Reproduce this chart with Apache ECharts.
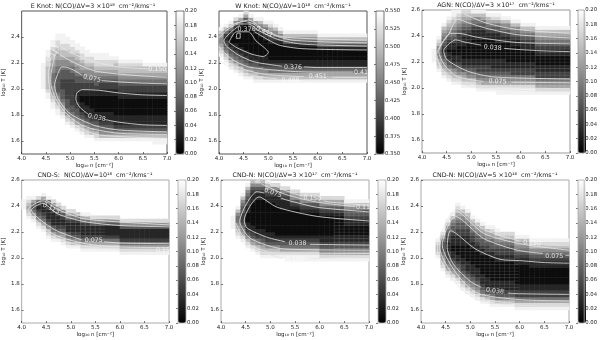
<!DOCTYPE html>
<html><head><meta charset="utf-8">
<style>html,body{margin:0;padding:0;background:#fff}#c{width:600px;height:340px}</style>
<script src="https://cdn.jsdelivr.net/npm/echarts@6/dist/echarts.min.js"></script>
</head><body><div id="c"></div>
<script>
// Gray-level tables: one [first T bin, levels] entry per log n column (0.1 wide), T bins 0.025 tall from 1.5.
const eKnotCols=[[0,""],[0,""],[0,""],[0,""],
[20,"99999999"],[17,"998777777788899"],[14,"998765544445566777899"],[12,"9987654333333445566778899"],
[11,"98765433322233345567788999"],[9,"987543332222223334556778899"],[8,"987543322222222334456678899"],
[7,"986543322111222334556677899"],[6,"987543211100112233456678899"],[5,"987543211100011223455678899"],
[5,"97643221100001122345567889"],[4,"987543211000001123345678899"],[4,"975432111000001122345678899"],
[4,"975432111000001122345678899"],[4,"97543211100000112234567889"],[4,"97532111000000112234567789"],
[4,"9753211100000112234567789"],[4,"9753211100000112234567789"],[4,"9753211100000112234567789"],
[4,"9753211100000112234567789"],[4,"9753211100000112234567789"],[4,"975321110000011223456779"],
[4,"975321110000011223456779"],[3,"9975321110000011223456779"],[3,"9975321110000011223456779"],[3,"9975321110000011223456779"]];
const wKnotCols=[[30,"987655679"],[28,"987543212469"],[26,"987543210012479"],[25,"98754321100001258"],
[24,"9875432110000001369"],[23,"987543211000000001368"],[23,"97653211000000012469"],[22,"98754321000000012369"],
[22,"98654211000000123579"],[22,"9765321100000123469"],[22,"9764321000001235689"],[22,"976432100000124579"],
[22,"97643210000013579"],[22,"9764321000013579"],[22,"9764321000013579"],[22,"9764311000013579"],
[22,"9764311000013579"],[22,"9764311000013579"],[22,"9764311000013579"],[22,"9764311000013579"],
[22,"976431100013579"],[22,"976431100013579"],[22,"976431100013579"],[22,"976431100013579"],[22,"976431100013579"],
[22,"976431100013579"],[22,"976431100013579"],[22,"976431100013579"],[22,"976431100013579"],[22,"976431100013579"]];
const agnCols=[[0,""],[0,""],[28,"9999"],[25,"98765445789"],[23,"98765432123345679"],[22,"98764321101123456789"],
[21,"98765321100112344567899"],[21,"98754321100011223456789"],[20,"987653211000011122345678"],
[20,"987543211000001112345678"],[20,"987543211000000111234579"],[19,"9875432211000000111234579"],
[19,"9865432211000000111234679"],[19,"986543221100000011234679"],[19,"986543211100000011234689"],
[18,"9986543211100000111234689"],[18,"998654321110000011234579"],[18,"998654321100000011234579"],
[18,"99865422110000011234579"],[18,"99865422110000011234579"],[18,"9986542211000011234579"],
[18,"9986542211000011234579"],[18,"9986542211000011234579"],[18,"986542211000112345679"],[18,"986542211000112345679"],
[18,"986542211000112345679"],[18,"986542211000112345679"],[18,"986542211000112345679"],[18,"986542211000112345679"],[18,"986542211000112345679"]];
const cndSCols=[[35,"999"],[32,"9876789"],[31,"98643469"],[29,"9864321248"],[28,"986432111369"],[26,"9875321111249"],
[25,"9864311112358"],[25,"975321112358"],[24,"986532112358"],[23,"986431112468"],[23,"975321112468"],[23,"97532111247"],
[22,"986421112469"],[22,"986421112469"],[22,"98642111358"],[22,"98642111358"],[22,"98642111358"],[22,"98642111358"],
[22,"98642111358"],[22,"98642111358"],[21,"98642111358"],[21,"98642111358"],[21,"98642111358"],[21,"98642111358"],
[21,"98642111358"],[21,"98642111358"],[21,"98642111358"],[21,"98642111358"],[21,"98642111358"],[21,"98642111358"]];
const cndN3Cols=[[0,""],[0,""],[29,"9999"],[26,"9876544579"],[25,"986543222334579"],[23,"98753211000112234579"],
[22,"9865321100000001112357"],[21,"98754211000000000112358"],[20,"987643211000000000112357"],
[20,"987532110000000001123579"],[20,"98753211000000000112358"],[20,"98753210000000001112358"],
[20,"9864321000000001112358"],[19,"99864321000000001112358"],[19,"9986432100000000123568"],
[19,"9986432100000000123568"],[19,"998643210000000123568"],[19,"998643210000000123568"],[19,"998643210000000123568"],
[19,"998643210000000123568"],[19,"98643211000000123568"],[19,"98643211000000123568"],[19,"98643211000000123568"],
[19,"98643211000000123568"],[19,"98643211000000123568"],[19,"9864321100011233579"],[19,"9864321100011233579"],
[19,"9864321100011233579"],[19,"9864321100011233579"],[19,"9864321100011233579"]];
const cndN5Cols=[[0,""],[0,""],[0,""],[20,"987789"],[16,"987654333468"],[14,"986543221112234579"],
[13,"986543211001112334579"],[12,"9865432110001112233456789"],[10,"98754322110000111223345679"],
[9,"98654321110000011122345679"],[8,"9865432111000001122345679"],[7,"9865432111000001123345679"],
[6,"9864321110000001123345679"],[6,"975321110000000122345679"],[5,"9864321100000001123345689"],
[5,"975321110000001122345689"],[5,"97532111000000112234578"],[5,"97532111000000112234578"],[5,"97532111000000112234578"],
[4,"98642211000000112345679"],[4,"98642211000000112345679"],[4,"98642211000000112345679"],[4,"9864221100000112345789"],
[4,"9864221100000112345789"],[4,"9864221100000112345789"],[4,"9864221100000112345789"],[4,"9864221100000112345789"],
[4,"9864221100000112345789"],[4,"9864221100000112345789"],[4,"9864221100000112345789"]];

// Contour segments [log n, log T]
const e038a=[[7,1.72],[6.5,1.725],[6,1.745],[5.72,1.765]];
const e038b=[[5.38,1.805],[5.2,1.86],[5.12,1.92],[5.14,1.97],[5.25,1.995],[5.6,1.99],[6,1.97],[6.5,1.955],[7,1.95]];
const e075a=[[7,2.04],[6.5,2.045],[6,2.055],[5.65,2.065]];
const e075b=[[5.25,2.105],[5.1,2.14],[4.95,2.165],[4.83,2.17],[4.75,2.12],[4.68,2.03],[4.76,1.92],[5,1.81],[5.5,1.72],[6,1.685],[7,1.67]];
const e113=[[7,2.09],[6.5,2.10],[6,2.115],[5.5,2.14],[5.1,2.2],[4.85,2.25],[4.73,2.28],[4.62,2.15],[4.6,2.05],[4.7,1.93],[4.9,1.82],[5.2,1.73],[5.5,1.69],[6,1.66],[7,1.65]];
const e150a=[[7,2.135],[6.97,2.14]];
const e150b=[[6.62,2.155],[6,2.17],[5.5,2.21],[5,2.28],[4.8,2.33]];
const e150c=[[4.6,2.2],[4.55,2.13],[4.57,2.02],[4.68,1.9],[5,1.75],[5.5,1.655],[6,1.635],[7,1.62]];
const eLabels=[[5.55,1.78,"0.038",-12],[5.45,2.08,"0.075",-12],[6.8,2.148,"0.150",0],[4.66,2.27,"0.113",55]];

const w350=[[4.2,2.36],[4.35,2.44],[4.6,2.44],[4.75,2.37],[5.0,2.28],[4.9,2.25],[4.65,2.27],[4.35,2.32],[4.2,2.36]];
const wMini=[[4.35,2.39],[4.43,2.39],[4.43,2.43],[4.37,2.43],[4.35,2.39]];
const w376a=[[7,2.165],[6,2.165],[5.72,2.17]];
const w376b=[[5.28,2.175],[5,2.19],[4.7,2.21],[4.4,2.26],[4.15,2.33],[4.1,2.37],[4.25,2.44],[4.42,2.49]];
const w376c=[[4.72,2.44],[5.2,2.34],[5.7,2.31],[7,2.30]];
const w413a=[[6.72,2.13],[6,2.13],[5.5,2.135],[5,2.15],[4.6,2.17],[4.3,2.22],[4.05,2.3],[4,2.33]];
const w413b=[[4,2.39],[4.15,2.45],[4.4,2.5],[4.6,2.5],[4.8,2.45],[5.2,2.38],[5.7,2.345],[7,2.33]];
const w451a=[[7,2.09],[6.3,2.09]];
const w451b=[[5.72,2.095],[5,2.11],[4.6,2.14],[4.2,2.2],[4,2.27]];
const w451c=[[4,2.43],[4.2,2.48],[4.5,2.52],[4.7,2.5],[5,2.43],[5.5,2.375],[7,2.355]];
const w488a=[[7,2.07],[5.72,2.07]];
const w488b=[[5.18,2.08],[5,2.085],[4.6,2.11],[4.3,2.15],[4,2.22]];
const w488c=[[4.3,2.5],[4.6,2.53],[4.9,2.46],[5.3,2.4],[7,2.375]];
const wLabels=[[5.5,2.17,"0.376",0],[6.0,2.095,"0.451",0],[6.88,2.125,"0.41",0],[5.45,2.07,"0.488",0],[4.56,2.46,"0.376",0],[4.92,2.44,"0.451",-25]];

const a038a=[[7,2.28],[6.5,2.285],[6,2.295],[5.66,2.305]];
const a038b=[[5.2,2.33],[4.9,2.35],[4.68,2.37],[4.55,2.34],[4.44,2.29],[4.5,2.22],[4.92,2.13],[5.46,2.085],[7,2.07]];
const a075a=[[7,2.34],[5.93,2.35],[5.12,2.39],[4.75,2.42],[4.58,2.42],[4.34,2.28],[4.45,2.18],[4.7,2.09],[5.25,2.05]];
const a075b=[[5.82,2.045],[7,2.04]];
const a113=[[7,2.385],[5.93,2.41],[5.3,2.46],[4.95,2.5],[4.72,2.53],[4.55,2.42],[4.3,2.26],[4.4,2.15],[4.7,2.06],[5.3,2.01],[7,1.995]];
const a150a=[[7,2.42],[5.93,2.45],[5.3,2.5],[4.85,2.57]];
const a150b=[[4.27,2.25],[4.45,2.11],[4.8,2.03],[5.5,1.99],[7,1.97]];
const aLabels=[[5.43,2.31,"0.038",-5],[5.53,2.05,"0.075",-3]];

const s075a=[[7,2.11],[6,2.115],[5.68,2.125]];
const s075b=[[5.22,2.14],[4.66,2.22],[4.2,2.37],[4.43,2.42],[4.73,2.34],[5.27,2.28],[6,2.25],[7,2.24]];
const s113=[[7,2.08],[6,2.085],[5.3,2.11],[4.66,2.18],[4.3,2.29],[4.13,2.37],[4.43,2.44],[4.75,2.37],[5.3,2.3],[7,2.255]];
const s150a=[[6.72,2.06],[6,2.065],[5.3,2.09],[4.6,2.17],[4.25,2.3]];
const s150b=[[4.45,2.455],[4.8,2.385],[5.3,2.32],[7,2.27]];
const sLabels=[[5.47,2.135,"0.075",0],[4.6,2.38,"0.113",-25],[6.88,2.06,"0.15",0]];

const n038a=[[7,2.285],[5.95,2.32],[5.14,2.39],[4.77,2.47],[4.47,2.29],[4.53,2.23],[4.93,2.16],[5.3,2.125]];
const n038b=[[5.8,2.105],[7,2.10]];
const n075a=[[7,2.355],[5.95,2.39],[5.34,2.445],[5.22,2.46]];
const n075b=[[4.88,2.5],[4.73,2.51],[4.38,2.28],[4.6,2.15],[5.27,2.07],[7,2.06]];
const n113a=[[6.72,2.395],[5.95,2.43],[5.3,2.49],[4.82,2.57]];
const n113b=[[4.3,2.27],[4.55,2.11],[5.2,2.03],[7,2.035]];
const n150a=[[7,2.405],[6.2,2.43],[6.08,2.44]];
const n150b=[[5.62,2.48],[5.3,2.52],[4.9,2.59]];
const n150c=[[4.28,2.25],[4.5,2.1],[5.2,2.0],[5.25,1.995]];
const n150d=[[5.78,1.995],[7,2.01]];
const nLabels=[[5.55,2.115,"0.038",0],[5.05,2.5,"0.075",-20],[5.85,2.46,"0.150",-5],[6.88,2.39,"0.11",0],[5.5,1.99,"0.150",0]];

const d038a=[[7,1.96],[6.5,1.965],[6,1.98],[5.6,1.99],[5.1,2.07],[4.6,2.21],[4.53,2.08],[4.66,1.95],[5,1.82],[5.22,1.775]];
const d038b=[[5.76,1.73],[6,1.725],[7,1.72]];
const d075a=[[7,2.02],[6.93,2.02]];
const d075b=[[6.47,2.035],[5.95,2.06],[5.27,2.15],[4.7,2.32],[4.43,2.1],[4.73,1.875],[5.14,1.73],[6,1.68],[7,1.67]];
const d113=[[7,2.06],[6,2.11],[5.27,2.19],[4.72,2.36],[4.38,2.08],[4.7,1.84],[5.14,1.7],[6,1.65],[7,1.65]];
const d150a=[[7,2.095],[6.5,2.1]];
const d150b=[[6,2.13],[5.27,2.22],[4.73,2.38],[4.33,2.07],[4.65,1.83],[5.14,1.68],[6,1.635],[7,1.63]];
const dLabels=[[5.5,1.745,"0.038",-6],[6.7,2.01,"0.075",0],[6.25,2.115,"0.150",-5]];

const xTicks=[4,4.5,5,5.5,6,6.5,7];
const yTicksShort=[1.6,1.8,2,2.2,2.4];
const yTicksLong=[1.6,1.8,2,2.2,2.4,2.6];
const titles=["E Knot: N(CO)/ΔV=3 ×10¹⁸  cm⁻²/kms⁻¹","W Knot: N(CO)/ΔV=10¹⁸  cm⁻²/kms⁻¹","AGN: N(CO)/ΔV=3 ×10¹⁷  cm⁻²/kms⁻¹",
"CND-S:  N(CO)/ΔV=10¹⁸  cm⁻²/kms⁻¹","CND-N: N(CO)/ΔV=3 ×10¹⁷  cm⁻²/kms⁻¹","CND-N: N(CO)/ΔV=5 ×10¹⁶  cm⁻²/kms⁻¹"];

const panels=[
{l:19,t:11,cb:176,cols:eKnotCols,lo:0,hi:0.2,step:0.02,dec:2,lines:[e038a,e038b,e075a,e075b,e113,e150a,e150b,e150c],labels:eLabels,yt:yTicksShort,frame:'#555',mesh:null},
{l:219,t:11,cb:376,cols:wKnotCols,lo:0.35,hi:0.55,step:0.025,dec:3,lines:[w350,wMini,w376a,w376b,w376c,w413a,w413b,w451a,w451b,w451c,w488a,w488b,w488c],labels:wLabels,yt:yTicksShort,frame:'#555',mesh:null},
{l:422,t:10,cb:578,cols:agnCols,lo:0,hi:0.2,step:0.02,dec:2,lines:[a038a,a038b,a075a,a075b,a113,a150a,a150b],labels:aLabels,yt:yTicksLong,frame:'#999',mesh:[3,29]},
{l:21,t:180,cb:178,cols:cndSCols,lo:0,hi:0.2,step:0.02,dec:2,lines:[s075a,s075b,s113,s150a,s150b],labels:sLabels,yt:yTicksLong,frame:'#aaa',mesh:[4,16]},
{l:221,t:180,cb:378,cols:cndN3Cols,lo:0,hi:0.2,step:0.02,dec:2,lines:[n038a,n038b,n075a,n075b,n113a,n113b,n150a,n150b,n150c,n150d],labels:nLabels,yt:yTicksLong,frame:'#aaa',mesh:[23,29]},
{l:421,t:180,cb:578,cols:cndN5Cols,lo:0,hi:0.2,step:0.02,dec:2,lines:[d038a,d038b,d075a,d075b,d113,d150a,d150b],labels:dLabels,yt:yTicksLong,frame:'#aaa',mesh:[5,19]}];

const W=148,H=143,CBW=8,FS=5.5,FF='"DejaVu Sans"';
const nBins=[];for(let i=0;i<30;i++)nBins.push(String(i));
const tBins=[];for(let i=0;i<44;i++)tBins.push(String(i));
const opt={animation:false,backgroundColor:'#fff',title:[],grid:[],xAxis:[],yAxis:[],series:[],visualMap:[]};
const tick={show:true,inside:true,length:2,lineStyle:{color:'#222',width:0.6}};
panels.forEach(function(p,idx){
  const g0=opt.grid.length;
  opt.grid.push({left:p.l,top:p.t,width:W,height:H,show:true,borderColor:p.frame,borderWidth:1,backgroundColor:'#fff'});
  opt.grid.push({left:p.cb,top:p.t,width:CBW,height:H,show:true,borderColor:p.frame,borderWidth:0.8,backgroundColor:'transparent',z:5});
  opt.title.push({text:titles[idx],left:p.l+W/2,top:p.t-8,textAlign:'center',textStyle:{fontFamily:FF,fontSize:6.3,fontWeight:'normal',color:'#222'},padding:0});
  const xc=opt.xAxis.length;
  opt.xAxis.push({type:'category',gridIndex:g0,data:nBins,show:false});
  opt.xAxis.push({type:'value',gridIndex:g0,min:4,max:7,position:'bottom',name:'log₁₀ n [cm⁻²]',nameLocation:'middle',nameGap:9,
    nameTextStyle:{fontFamily:FF,fontSize:FS,color:'#222'},splitLine:{show:false},axisLine:{show:false},
    axisTick:Object.assign({},tick,{customValues:xTicks}),
    axisLabel:{customValues:xTicks,margin:2,fontFamily:FF,fontSize:FS,color:'#222',formatter:function(v){return v.toFixed(1)}}});
  opt.xAxis.push({type:'value',gridIndex:g0+1,min:0,max:1,show:false});
  const yc=opt.yAxis.length;
  opt.yAxis.push({type:'category',gridIndex:g0,data:tBins,show:false});
  opt.yAxis.push({type:'value',gridIndex:g0,min:1.5,max:2.6,position:'left',name:'log₁₀ T [K]',nameLocation:'middle',nameGap:11,
    nameTextStyle:{fontFamily:FF,fontSize:FS,color:'#222'},splitLine:{show:false},axisLine:{show:false},
    axisTick:Object.assign({},tick,{customValues:p.yt}),
    axisLabel:{customValues:p.yt,margin:2,fontFamily:FF,fontSize:FS,color:'#222',formatter:function(v){return v.toFixed(1)}}});
  opt.yAxis.push({type:'value',gridIndex:g0+1,min:p.lo,max:p.hi,interval:p.step,position:'right',splitLine:{show:false},axisLine:{show:false},
    axisTick:Object.assign({},tick),
    axisLabel:{margin:1,fontFamily:FF,fontSize:5.3,color:'#222',formatter:function(v){return v.toFixed(p.dec)}}});
  const span=(p.hi-p.lo)/10, cells=[];
  p.cols.forEach(function(c,i){
    for(let j=0;j<c[1].length;j++){
      const v=[i,c[0]+j,p.lo+(+c[1][j]+0.5)*span];
      cells.push(p.mesh&&i>=p.mesh[0]&&i<=p.mesh[1]?{value:v,itemStyle:{borderColor:'rgba(255,255,255,0.16)',borderWidth:0.6}}:v);
    }
  });
  opt.visualMap.push({type:'continuous',seriesIndex:opt.series.length,min:p.lo,max:p.hi,left:p.cb,top:p.t,itemWidth:CBW,itemHeight:H,padding:0,
    calculable:false,realtime:false,hoverLink:false,text:null,inRange:{color:['#000000','#ffffff']},textStyle:{fontSize:1}});
  opt.series.push({type:'heatmap',xAxisIndex:xc,yAxisIndex:yc,data:cells,progressive:0,silent:true,z:1});
  p.lines.forEach(function(seg){
    opt.series.push({type:'line',xAxisIndex:xc+1,yAxisIndex:yc+1,data:seg,symbol:'none',smooth:0.25,silent:true,z:3,
      lineStyle:{color:'#e6e6e6',width:0.8}});
  });
  opt.series.push({type:'scatter',xAxisIndex:xc+1,yAxisIndex:yc+1,symbolSize:0,silent:true,z:4,
    data:p.labels.map(function(a){return {value:[a[0],a[1]],name:a[2],label:{rotate:a[3]}}}),
    label:{show:true,position:'inside',formatter:'{b}',color:'#ffffff',fontFamily:FF,fontSize:6.3}});
});
const chart=echarts.init(document.getElementById('c'),null,{renderer:'canvas'});
chart.setOption(opt);
</script></body></html>
